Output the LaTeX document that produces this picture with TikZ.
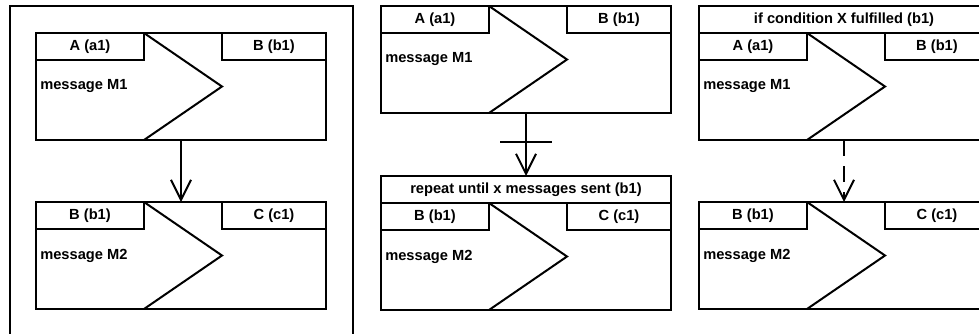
\documentclass[tikz,border=0pt]{standalone}
\usepackage{fontspec}
\setmainfont{Liberation Sans}
\usetikzlibrary{arrows.meta,positioning,calc}

\tikzset{
  line/.style={line width=1.5pt},
  box/.style={draw, line, outer sep=0pt, inner sep=0pt, anchor=north west,
    minimum width=217.5pt, minimum height=80.25pt},
  header/.style={draw, line, outer sep=0pt, inner sep=0pt, anchor=north west,
    minimum width=217.5pt, minimum height=20.25pt},
  sender/.style={draw, line, outer sep=0pt, inner sep=0pt, anchor=north west,
    minimum width=81pt, minimum height=20.25pt},
  receiver/.style={draw, line, outer sep=0pt, inner sep=0pt, anchor=north east,
    minimum width=78pt, minimum height=20.25pt},
  msg/.style={anchor=west, inner sep=0pt},
  flow/.style={line, -{Straight Barb[length=15pt,width=15pt]}},
}

\begin{document}
\begin{tikzpicture}[x=0.75pt, y=-0.75pt, font=\fontsize{11}{13}\selectfont\bfseries]
  \useasboundingbox (0,0) rectangle (979,333);
  \clip (0,0) rectangle (979,333);

  % panel 1: plain sequence
  \draw[line] (10,400) -- (10,6) -- (353,6) -- (353,400);
  \node[box] (p1m1) at (36,33) {};
  \node[sender] (p1a) at (p1m1.north west) {A (a1)};
  \node[receiver] (p1b) at (p1m1.north east) {B (b1)};
  \draw[line] (p1a.north east) -- (p1b.south west |- p1m1.west) -- (p1a.north east |- p1m1.south);
  \node[msg] (p1t1) at ([xshift=3pt]p1m1.west) {message M1};

  \node[box] (p1m2) at (36,202) {};
  \node[sender] (p1c) at (p1m2.north west) {B (b1)};
  \node[receiver] (p1d) at (p1m2.north east) {C (c1)};
  \draw[line] (p1c.north east) -- (p1d.south west |- p1m2.west) -- (p1c.north east |- p1m2.south);
  \node[msg] (p1t2) at ([xshift=3pt]p1m2.west) {message M2};

  \draw[flow] (p1m1.south) -- (p1m2.north);

  % panel 2: repetition
  \node[box] (p2m1) at (381,6) {};
  \node[sender] (p2a) at (p2m1.north west) {A (a1)};
  \node[receiver] (p2b) at (p2m1.north east) {B (b1)};
  \draw[line] (p2a.north east) -- (p2b.south west |- p2m1.west) -- (p2a.north east |- p2m1.south);
  \node[msg] (p2t1) at ([xshift=3pt]p2m1.west) {message M1};

  \node[header] (p2rep) at (381,176) {repeat until x messages sent (b1)};
  \node[box] (p2m2) at (p2rep.south west) {};
  \node[sender] (p2c) at (p2m2.north west) {B (b1)};
  \node[receiver] (p2d) at (p2m2.north east) {C (c1)};
  \draw[line] (p2c.north east) -- (p2d.south west |- p2m2.west) -- (p2c.north east |- p2m2.south);
  \node[msg] (p2t2) at ([xshift=3pt]p2m2.west) {message M2};

  \draw[flow] (p2m1.south) -- (p2rep.north);
  \coordinate (p2bar) at ($(p2m1.south)!0.46!(p2rep.north)$);
  \draw[line] ([xshift=-19.5pt]p2bar) -- ([xshift=19.5pt]p2bar);

  % panel 3: condition
  \node[header] (p3if) at (699,6) {if condition X fulfilled (b1)};
  \node[box] (p3m1) at (p3if.south west) {};
  \node[sender] (p3a) at (p3m1.north west) {A (a1)};
  \node[receiver] (p3b) at (p3m1.north east) {B (b1)};
  \draw[line] (p3a.north east) -- (p3b.south west |- p3m1.west) -- (p3a.north east |- p3m1.south);
  \node[msg] (p3t1) at ([xshift=3pt]p3m1.west) {message M1};

  \node[box] (p3m2) at (699,202) {};
  \node[sender] (p3c) at (p3m2.north west) {B (b1)};
  \node[receiver] (p3d) at (p3m2.north east) {C (c1)};
  \draw[line] (p3c.north east) -- (p3d.south west |- p3m2.west) -- (p3c.north east |- p3m2.south);
  \node[msg] (p3t2) at ([xshift=3pt]p3m2.west) {message M2};

  \draw[flow, dash pattern=on 12pt off 7.5pt] (p3m1.south) -- (p3m2.north);
\end{tikzpicture}
\end{document}
